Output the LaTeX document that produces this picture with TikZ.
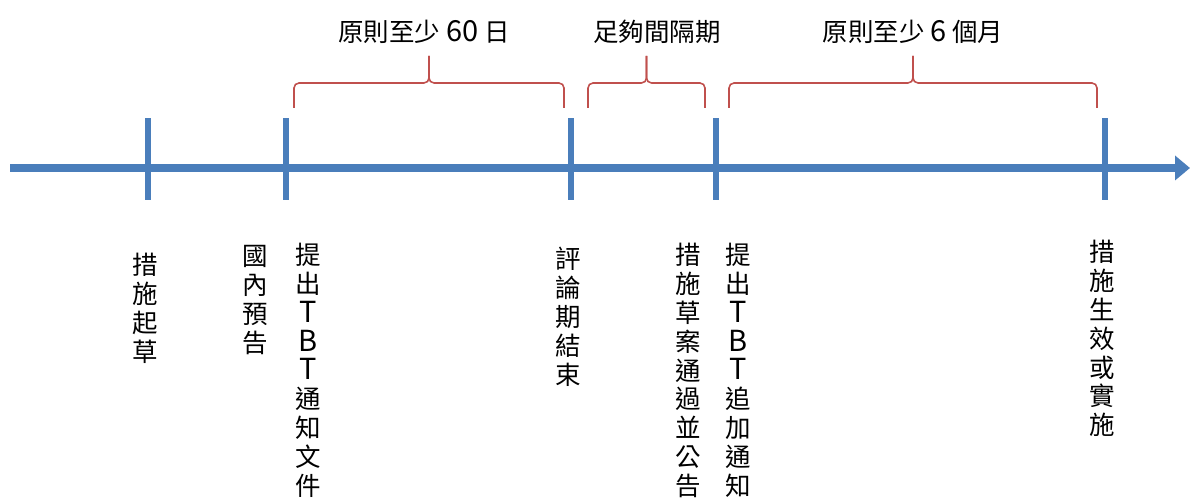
\documentclass[tikz,border=0pt]{standalone}
\usepackage{fontspec}
\setmainfont{Noto Sans CJK TC}
\usetikzlibrary{arrows.meta}
\definecolor{lineblue}{HTML}{4A7EBB}
\definecolor{bracered}{HTML}{C0504D}
\tikzstyle{axis} = [line width=4.6pt, draw=lineblue, -{Triangle[length=0.3cm,width=0.48cm]}]
\tikzstyle{tick} = [line width=3.4pt, draw=lineblue]
\tikzstyle{brace} = [line width=0.9pt, draw=bracered, rounded corners=0.1cm]
\tikzstyle{event} = [anchor=north, inner sep=0pt, align=center, font=\fontsize{14.5}{16.4}\selectfont]
\tikzstyle{period} = [inner sep=0pt, font=\fontsize{14.5}{16.4}\selectfont]
\newcommand{\latin}[1]{{\fontsize{16.5}{16.4}\selectfont #1}}

\begin{document}
\begin{tikzpicture}[x=0.02cm, y=-0.02cm]
\useasboundingbox (0,0) rectangle (1190,502);

% time axis
\coordinate (start) at (10,168);
\coordinate (end) at (1190,168);
\draw [axis] (start) -- (end);

% ticks
\coordinate (t1) at (148,168);
\coordinate (t2) at (286,168);
\coordinate (t3) at (571,168);
\coordinate (t4) at (716,168);
\coordinate (t5) at (1105,168);
\foreach \t in {t1,t2,t3,t4,t5}
  \draw [tick] ([yshift=1cm]\t) -- ([yshift=-0.64cm]\t);

% events
\node (draft) [event] at (145,253) {措\\施\\起\\草};
\node (domestic) [event] at (255,245) {國\\內\\預\\告};
\node (notify) [event] at (308,243) {提\\出\\\latin{T}\\\latin{B}\\\latin{T}\\通\\知\\文\\件};
\node (comment) [event] at (568,247) {評\\論\\期\\結\\束};
\node (adopt) [event] at (688,243) {措\\施\\草\\案\\通\\過\\並\\公\\告};
\node (addendum) [event] at (738,243) {提\\出\\\latin{T}\\\latin{B}\\\latin{T}\\追\\加\\通\\知};
\node (effect) [event] at (1102,240) {措\\施\\生\\效\\或\\實\\施};

% periods
\node (sixty) [period] at (424,32) {原則至少 \latin{60} 日};
\node (interval) [period] at (657,32) {足夠間隔期};
\node (sixmonth) [period] at (913,32) {原則至少 \latin{6} 個月};

\draw [brace] (294,108) |- (429,83) -- (429,56);
\draw [brace] (564,108) |- (429,83) -- (429,56);
\draw [brace] (588,108) |- (646.5,83) -- (646.5,56);
\draw [brace] (705,108) |- (646.5,83) -- (646.5,56);
\draw [brace] (729,108) |- (913,83) -- (913,56);
\draw [brace] (1097,108) |- (913,83) -- (913,56);

\end{tikzpicture}
\end{document}
